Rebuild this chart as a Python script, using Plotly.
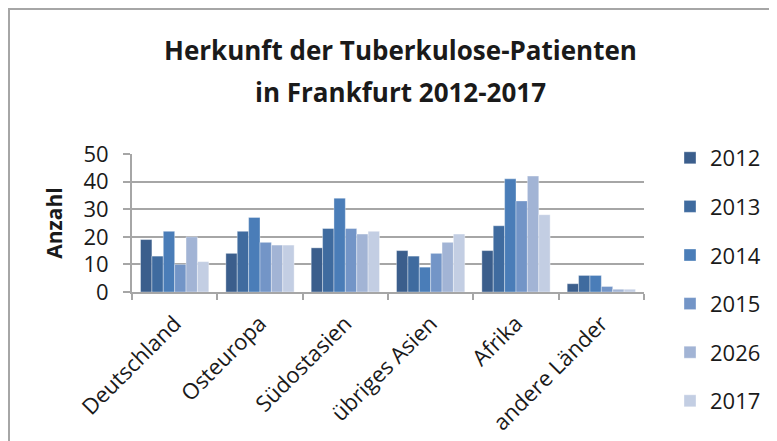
import plotly.graph_objects as go

categories = ["Deutschland", "Osteuropa", "Südostasien", "übriges Asien", "Afrika", "andere Länder"]
years = ["2012", "2013", "2014", "2015", "2026", "2017"]
v2012 = [19, 14, 16, 15, 15, 3]
v2013 = [13, 22, 23, 13, 24, 6]
v2014 = [22, 27, 34, 9, 41, 6]
v2015 = [10, 18, 23, 14, 33, 2]
v2026 = [20, 17, 21, 18, 42, 1]
v2017 = [11, 17, 22, 21, 28, 1]
series = [v2012, v2013, v2014, v2015, v2026, v2017]
colors = ["#3B5E8C", "#3F6B9F", "#4A7DB8", "#7395C7", "#A2B4D5", "#C3CEE3"]
title_lines = ["Herkunft der Tuberkulose-Patienten", "in Frankfurt 2012-2017"]

# page has an 8px body margin; figure coordinates = page coordinates - OFF
OFF = 8
W, H = 777 - OFF, 441 - OFF
L = 132 - OFF
T = 154 - OFF
R = W - (644 - OFF)
B = H - (292 - OFF)
pw, ph = W - L - R, H - T - B

FONT = "Open Sans"
TXT = "#1a1a1a"
GRAY = "#A6A6A6"

fig = go.Figure()
for name, vals, c in zip(years, series, colors):
    fig.add_trace(go.Bar(x=categories, y=vals, name=name, legendgroup=name,
                         marker=dict(color=c, line=dict(color="rgba(255,255,255,0.6)", width=0.6))))

def px2x(p):
    # page pixel -> paper x
    return (p - OFF - L) / pw

def py2y(p):
    # page pixel -> paper y
    return (H - B - (p - OFF)) / ph

annotations = [
    dict(text="<b>%s</b>" % title_lines[0], x=px2x(400), y=py2y(50), xref="paper", yref="paper",
         xanchor="center", yanchor="middle", showarrow=False,
         font=dict(family=FONT, size=26, color=TXT)),
    dict(text="<b>%s</b>" % title_lines[1], x=px2x(400), y=py2y(92), xref="paper", yref="paper",
         xanchor="center", yanchor="middle", showarrow=False,
         font=dict(family=FONT, size=26, color=TXT)),
]

fig.update_layout(
    width=W, height=H, autosize=False,
    margin=dict(l=L, r=R, t=T, b=B, autoexpand=False),
    paper_bgcolor="white", plot_bgcolor="white",
    barmode="group", bargap=0.2, bargroupgap=0,
    font=dict(family=FONT, size=22, color=TXT),
    annotations=annotations,
    legend=dict(x=px2x(670), y=py2y(137), xanchor="left", yanchor="top",
                traceorder="grouped", tracegroupgap=17, maxheight=320,
                font=dict(family=FONT, size=22, color=TXT),
                bgcolor="rgba(0,0,0,0)"),
    showlegend=True,
    xaxis=dict(showline=True, linecolor=GRAY, linewidth=2, automargin=False,
               ticks="outside", tickson="boundaries", ticklen=6, tickcolor=GRAY, tickwidth=2,
               tickangle=-45, ticklabelstandoff=8,
               tickfont=dict(family=FONT, size=22, color=TXT),
               showgrid=False),
    yaxis=dict(range=[0, 50], dtick=10, showline=True, linecolor=GRAY, linewidth=2, automargin=False,
               ticks="outside", ticklen=7, tickcolor=GRAY, tickwidth=2, ticklabelstandoff=10,
               showgrid=True, gridcolor=GRAY, gridwidth=2,
               tickfont=dict(family=FONT, size=22, color=TXT),
               title=dict(text="<b>Anzahl</b>", font=dict(family=FONT, size=21, color=TXT),
                          standoff=15)),
    shapes=[dict(type="rect", xref="paper", yref="paper",
                 x0=px2x(OFF + 1), x1=px2x(800), y0=py2y(460), y1=py2y(OFF + 1),
                 line=dict(color=GRAY, width=2), fillcolor="rgba(0,0,0,0)", layer="below")],
)

fig.write_html("out.html")
